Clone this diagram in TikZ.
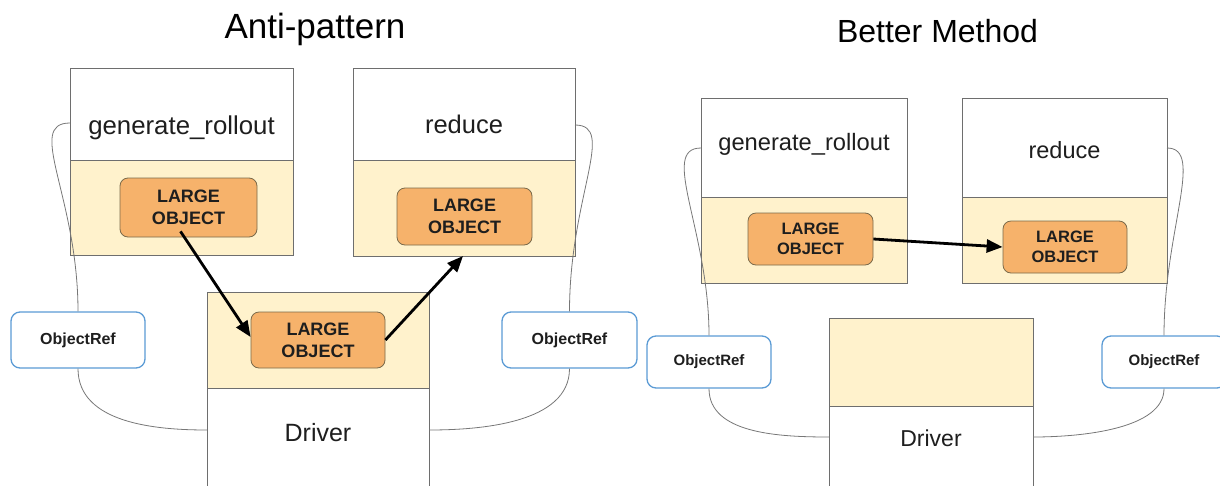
\documentclass[tikz,border=0pt]{standalone}
\usepackage{fontspec}
\setmainfont{Liberation Sans}
\usetikzlibrary{arrows.meta,calc}
\definecolor{paleyellow}{HTML}{FFF2CC}
\definecolor{objorange}{HTML}{F6B26B}
\definecolor{objedge}{HTML}{7A6A4A}
\definecolor{boxedge}{HTML}{6E6E6E}
\definecolor{refblue}{HTML}{5B9BD5}
\definecolor{wire}{HTML}{777777}
\definecolor{ink}{HTML}{1E1E1E}

\begin{document}
\begin{tikzpicture}[x=1pt,y=-1pt,
  part/.style={draw=boxedge, line width=0.9pt, inner sep=0pt, outer sep=0pt},
  headpart/.style={part, fill=white},
  bodypart/.style={part, fill=paleyellow},
  largeobj/.style n args={2}{draw=objedge, fill=objorange, line width=0.8pt, rounded corners=8pt,
    inner sep=0pt, align=center, text=ink, font=\bfseries\fontsize{#1}{#2}\selectfont},
  objref/.style={draw=refblue, fill=white, line width=1.3pt, rounded corners=9pt,
    inner sep=0pt, text=ink, font=\bfseries\fontsize{#1}{#1}\selectfont},
  boxlabel/.style={inner sep=0pt, anchor=base, text=ink, font=\fontsize{#1}{#1}\selectfont},
  title/.style={inner sep=0pt, anchor=base, text=black, font=\fontsize{#1}{#1}\selectfont},
  wirecurve/.style={draw=wire, line width=0.8pt},
  bigarrow/.style={draw=black, line width=2.8pt, -{Triangle[length=16pt,width=13pt]}}
]
\useasboundingbox (0,0) rectangle (1220,485);
\clip (0,0) rectangle (1220,485);

% ---------------- Anti-pattern ----------------
\node[title=35] (titleA) at (315,38) {Anti-pattern};

% generate_rollout worker
\node[headpart, minimum width=223pt, minimum height=92pt] (genAhead) at (181.5,114) {};
\node[bodypart, minimum width=223pt, minimum height=95pt] (genAbody) at (181.5,207.5) {};
\node[boxlabel=25.8] (genAtext) at (181.5,134) {generate\_rollout};
\node[largeobj={18}{22}, minimum width=137pt, minimum height=59pt] (loA) at (188.5,207.5) {LARGE\\OBJECT};

% reduce worker
\node[headpart, minimum width=222pt, minimum height=92pt] (redAhead) at (464,114) {};
\node[bodypart, minimum width=222pt, minimum height=96pt] (redAbody) at (464,208) {};
\node[boxlabel=25.5] (redAtext) at (464,133) {reduce};
\node[largeobj={18}{22}, minimum width=135pt, minimum height=57pt] (loB) at (464.5,216.5) {LARGE\\OBJECT};

% driver
\node[bodypart, minimum width=222pt, minimum height=96pt] (drvAbody) at (318,340) {};
\node[headpart, minimum width=222pt, minimum height=112pt] (drvAhead) at (318,444) {};
\node[boxlabel=25] (drvAtext) at (318,441) {Driver};
\node[largeobj={18}{22}, minimum width=134pt, minimum height=56pt] (loC) at (318,340) {LARGE\\OBJECT};

% object references
\node[objref=16, minimum width=134pt, minimum height=56pt] (refA) at (78,340) {ObjectRef};
\node[objref=16, minimum width=135pt, minimum height=56pt] (refB) at (569.5,340) {ObjectRef};

\draw[wirecurve] ($(genAhead.west)+(0,9)$) .. controls +(-45,0) and +(0,-115) .. (refA.north);
\draw[wirecurve] (refA.south) .. controls +(0,55) and +(-50,0) .. ($(drvAhead.west)+(0,-14)$);
\draw[wirecurve] ($(redAhead.east)+(0,11)$) .. controls +(42,0) and +(0,-115) .. (refB.north);
\draw[wirecurve] (refB.south) .. controls +(0,55) and +(50,0) .. ($(drvAhead.east)+(0,-14)$);

\draw[bigarrow] ($(loA.south)+(-8,-6)$) -- ($(loC.west)+(0,-3)$);
\draw[bigarrow] (loC.east) -- ($(redAbody.south)+(-1,0)$);

% ---------------- Better Method ----------------
\node[title=32] (titleB) at (937.5,42) {Better Method};

% generate_rollout worker
\node[headpart, minimum width=206pt, minimum height=99pt] (genBhead) at (804,147.5) {};
\node[bodypart, minimum width=206pt, minimum height=86pt] (genBbody) at (804,240) {};
\node[boxlabel=23.7] (genBtext) at (804,150) {generate\_rollout};
\node[largeobj={16.5}{20}, minimum width=125pt, minimum height=52pt] (loD) at (810.5,239) {LARGE\\OBJECT};

% reduce worker
\node[headpart, minimum width=205pt, minimum height=99pt] (redBhead) at (1064.5,147.5) {};
\node[bodypart, minimum width=205pt, minimum height=86pt] (redBbody) at (1064.5,240) {};
\node[boxlabel=23.5] (redBtext) at (1064.5,158) {reduce};
\node[largeobj={16.5}{20}, minimum width=124pt, minimum height=52pt] (loE) at (1065,247) {LARGE\\OBJECT};

% driver
\node[bodypart, minimum width=204pt, minimum height=88pt] (drvBbody) at (931,362) {};
\node[headpart, minimum width=204pt, minimum height=94pt] (drvBhead) at (931,453) {};
\node[boxlabel=23] (drvBtext) at (931,446) {Driver};

% object references
\node[objref=15, minimum width=124pt, minimum height=52pt] (refC) at (709,362) {ObjectRef};
\node[objref=15, minimum width=124pt, minimum height=52pt] (refD) at (1164,362) {ObjectRef};

\draw[wirecurve] ($(genBhead.west)+(0,0.5)$) .. controls +(-42,0) and +(0,-105) .. (refC.north);
\draw[wirecurve] (refC.south) .. controls +(0,45) and +(-50,0) .. ($(drvBhead.west)+(0,-16)$);
\draw[wirecurve] ($(redBhead.east)+(0,0.5)$) .. controls +(38,0) and +(0,-105) .. (refD.north);
\draw[wirecurve] (refD.south) .. controls +(0,40) and +(50,0) .. ($(drvBhead.east)+(0,-16)$);

\draw[bigarrow] (loD.east) -- (loE.west);
\end{tikzpicture}
\end{document}
